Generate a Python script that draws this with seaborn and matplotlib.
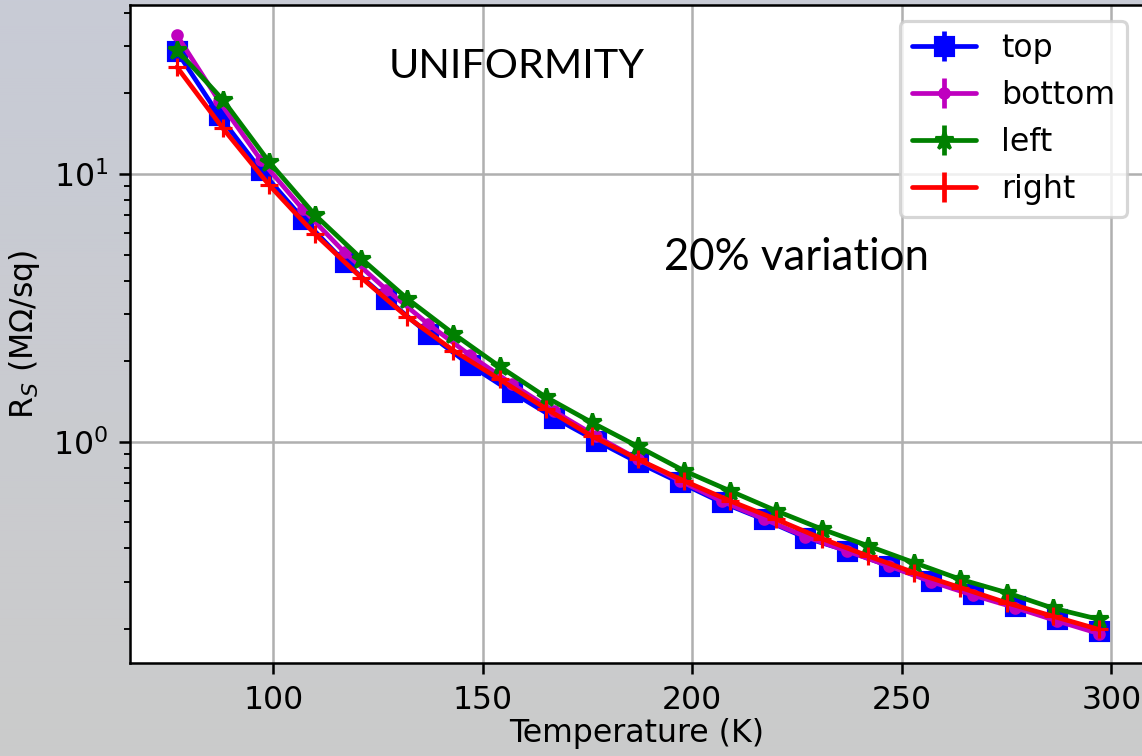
import numpy as np
import pandas as pd
import matplotlib
matplotlib.use("Agg")
import matplotlib.pyplot as plt
from matplotlib.lines import Line2D
from matplotlib.legend_handler import HandlerTuple
import seaborn as sns

# ---- data ----
temp_10 = [77, 87, 97, 107, 117, 127, 137, 147, 157, 167, 177, 187,
           197, 207, 217, 227, 237, 247, 257, 267, 277, 287, 297]
temp_11 = [77, 88, 99, 110, 121, 132, 143, 154, 165, 176, 187,
           198, 209, 220, 231, 242, 253, 264, 275, 286, 297]

top = [28.7, 16.6, 10.35, 6.82, 4.69, 3.42, 2.53, 1.93, 1.53, 1.23, 1.01, 0.837,
       0.704, 0.593, 0.513, 0.438, 0.391, 0.343, 0.302, 0.269, 0.243, 0.217, 0.196]
bottom = [33.0, 18.8, 11.3, 7.4, 5.1, 3.7, 2.75, 2.1, 1.64, 1.30, 1.05, 0.86,
          0.715, 0.60, 0.515, 0.442, 0.39, 0.343, 0.30, 0.267, 0.24, 0.214, 0.192]
left = [29.1, 18.9, 11.1, 7.02, 4.83, 3.42, 2.53, 1.91, 1.47, 1.18, 0.96,
        0.779, 0.655, 0.552, 0.471, 0.408, 0.353, 0.306, 0.273, 0.239, 0.217]
right = [25.1, 14.8, 9.1, 5.95, 4.1, 2.92, 2.19, 1.71, 1.33, 1.05, 0.86,
         0.714, 0.601, 0.513, 0.434, 0.374, 0.324, 0.285, 0.25, 0.223, 0.199]

series = [
    ("top", temp_10, top, "blue", "s", 13.6),
    ("bottom", temp_10, bottom, "m", ".", 13.6),
    ("left", temp_11, left, "green", "*", 13.6),
    ("right", temp_11, right, "red", "+", 13.6),
]

K = 2.27  # scale of point sizes
sns.set_style("white")
plt.rcParams["font.family"] = ["DejaVu Sans"]
plt.rcParams["text.color"] = "black"
plt.rcParams["axes.labelcolor"] = "black"
plt.rcParams["xtick.color"] = "black"
plt.rcParams["ytick.color"] = "black"

fig = plt.figure(figsize=(11.42, 7.56), dpi=100)
# grey photo-like background gradient
grad = np.linspace(0, 1, 756)[:, None]
top_c = np.array([200, 203, 214]) / 255.0
bot_c = np.array([203, 203, 203]) / 255.0
bg = (top_c[None, None, :] * (1 - grad[:, :, None]) + bot_c[None, None, :] * grad[:, :, None])
bg = np.repeat(bg, 1142, axis=1)
fig.figimage(bg, xo=0, yo=0, origin="upper", zorder=-10)

ax = fig.add_axes([130 / 1142, 1 - 663 / 756, 1.0 - 130 / 1142 + 0.001, (663 - 5) / 756])
ax.set_facecolor("white")

handles = []
for name, xs, ys, col, mk, ms in series:
    df = pd.DataFrame({"T": xs, "R": ys})
    sns.lineplot(data=df, x="T", y="R", ax=ax, color=col, marker=mk,
                 markersize=ms, linewidth=1.5 * K, markeredgecolor=col,
                 markerfacecolor=col, markeredgewidth=1.0 * K, label=None)
    h_line = Line2D([], [], color=col, marker=mk, markersize=ms,
                    linewidth=1.5 * K, markeredgecolor=col, markerfacecolor=col,
                    markeredgewidth=1.0 * K)
    h_bar = Line2D([], [], color=col, marker="|", markersize=9.5 * K,
                   linestyle="none", markeredgewidth=1.5 * K)
    handles.append(((h_line, h_bar), name))

ax.set_yscale("log")
ax.set_xlim(65.8, 307.6)
ax.set_ylim(0.149, 42.8)

ax.grid(True, which="major", color="#b0b0b0", linewidth=0.8 * K)
ax.grid(False, which="minor")
for s in ax.spines.values():
    s.set_linewidth(0.8 * K)
    s.set_color("black")
ax.tick_params(axis="both", which="major", length=3.5 * K, width=0.8 * K,
               labelsize=10 * K, color="black", labelcolor="black",
               direction="out", pad=3.5 * K, left=True, bottom=True)
ax.tick_params(axis="y", which="minor", length=2 * K, width=0.6 * K,
               color="black", left=True)
ax.set_xticks([100, 150, 200, 250, 300])

ax.set_xlabel("Temperature (K)", fontsize=10 * K, labelpad=1.5, color="black")
ax.set_ylabel(r"R$_S$ (M$\Omega$/sq)", fontsize=10 * K, color="black")
ax.yaxis.set_label_coords(-0.087, 0.5)

leg = ax.legend([h for h, _ in handles], [n for _, n in handles],
                handler_map={tuple: HandlerTuple(ndivide=1)},
                loc="upper right", fontsize=10 * K, frameon=True,
                fancybox=True, framealpha=0.8, edgecolor="#cccccc",
                borderaxespad=0.5, handlelength=2.0)
leg.get_frame().set_linewidth(1.0 * K)
for t in leg.get_texts():
    t.set_color("black")

fig.text(517 / 1142, 1 - 66 / 756, "UNIFORMITY", fontsize=29.8,
         family=["Lato", "DejaVu Sans"], ha="center", va="center", color="black")
fig.text(796 / 1142, 1 - 257 / 756, "20% variation", fontsize=31.5,
         family=["Lato", "DejaVu Sans"], ha="center", va="center", color="black")

fig.savefig("out.png", dpi=100)
